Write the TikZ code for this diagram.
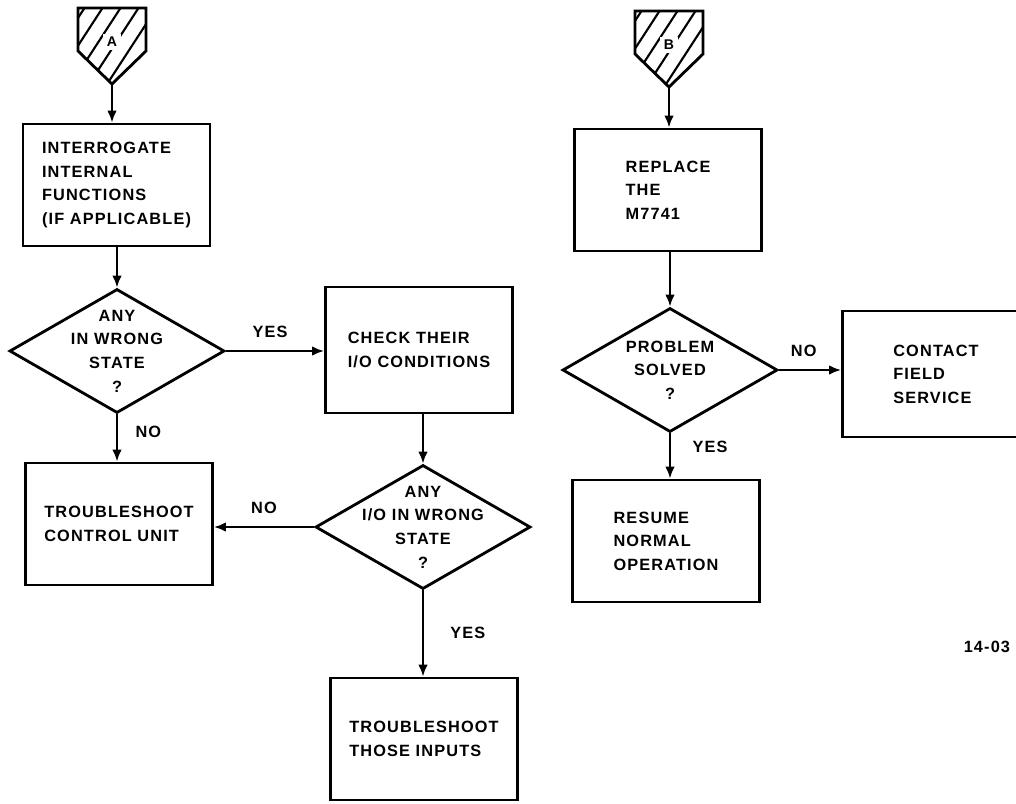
\documentclass[tikz,border=0pt]{standalone}
\usepackage{fontspec}
\newfontfamily\chartfont{Liberation Sans}[LetterSpace=7]
\usetikzlibrary{arrows.meta,positioning,shapes.geometric}

\begin{document}
\begin{tikzpicture}[x=0.025cm,y=-0.025cm,
   font=\chartfont\bfseries\fontsize{11.6pt}{16.8pt}\selectfont,
   box/.style={draw,line width=2pt,minimum width=4.675cm,minimum height=3.05cm,align=left},
   decide/.style={diamond,draw,line width=2pt,minimum width=5.375cm,minimum height=3.1cm,inner sep=0pt},
   dtext/.style={align=center},
   link/.style={line width=1.6pt,-{Latex[length=3mm,width=2.4mm]}},
   ans/.style={inner sep=3pt},
   hatch/.style={line width=1.5pt}]
  \useasboundingbox (0,0) rectangle (1016,803);
  % off-page connectors
  \foreach \nm/\cx/\cy in {A/78/8,B/635/11}{
    \begin{scope}
      \clip (\cx,\cy) -- ++(68,0) -- ++(0,43) -- ++(-34,33) -- ++(-34,-33) -- cycle;
      \foreach \h in {-52,-34,...,68} \draw[hatch] (\cx+\h,\cy+90) -- ++(65,-100);
    \end{scope}
    \draw[line width=2pt] (\cx,\cy) -- ++(68,0) -- ++(0,43) -- ++(-34,33) coordinate (tip\nm) -- ++(-34,-33) -- cycle;
    \node[fill=white,inner sep=2.5pt,font=\chartfont\bfseries\fontsize{10pt}{11pt}\selectfont] (lab\nm) at (\cx+34,\cy+34) {\nm};
  }
  % left chart
  \node[box] (interro) at (116.5,185) {INTERROGATE\\INTERNAL\\FUNCTIONS\\(IF APPLICABLE)};
  \node[decide] (anywrong) at (117,351) {};
  \node[dtext] (anywrongt) at (anywrong) {ANY\\IN WRONG\\STATE\\?};
  \node[box,minimum height=3.15cm] (checkio) at (419,350) {CHECK THEIR\\I/O CONDITIONS};
  \node[box] (ctrlunit) at (119,524) {TROUBLESHOOT\\CONTROL UNIT};
  \node[decide] (iowrong) at (423,527) {};
  \node[dtext] (iowrongt) at (iowrong) {ANY\\I/O IN WRONG\\STATE\\?};
  \node[box] (inputs) at (424,739) {TROUBLESHOOT\\THOSE INPUTS};
  % right chart
  \node[box] (replace) at (668,190) {REPLACE\\THE\\M7741};
  \node[decide] (solved) at (670,370) {};
  \node[dtext] (solvedt) at (solved) {PROBLEM\\SOLVED\\?};
  \node[box,minimum height=3.15cm] (fieldsvc) at (936,374) {CONTACT\\FIELD\\SERVICE};
  \node[box] (resume) at (666,541) {RESUME\\NORMAL\\OPERATION};
  \node[anchor=east] (figno) at (1015,647) {14-03};

  \draw[link] (tipA) -- (tipA |- interro.north);
  \draw[link] (anywrong.north |- interro.south) -- (anywrong.north);
  \draw[link] (anywrong.east) -- node[ans,above,pos=0.45,yshift=2mm] (yes1) {YES} (anywrong.east -| checkio.west);
  \draw[link] (anywrong.south) -- node[ans,right,pos=0.38,xshift=3.3mm] (no1) {NO} (anywrong.south |- ctrlunit.north);
  \draw[link] (iowrong.north |- checkio.south) -- (iowrong.north);
  \draw[link] (iowrong.west) -- node[ans,above,yshift=2mm] (no2) {NO} (iowrong.west -| ctrlunit.east);
  \draw[link] (iowrong.south) -- node[ans,right,pos=0.49,xshift=5.5mm] (yes2) {YES} (iowrong.south |- inputs.north);
  \draw[link] (tipB) -- (tipB |- replace.north);
  \draw[link] (solved.north |- replace.south) -- (solved.north);
  \draw[link] (solved.east) -- node[ans,above,pos=0.4,yshift=2mm] (no3) {NO} (solved.east -| fieldsvc.west);
  \draw[link] (solved.south) -- node[ans,right,pos=0.3,xshift=4.3mm] (yes3) {YES} (solved.south |- resume.north);
\end{tikzpicture}
\end{document}
